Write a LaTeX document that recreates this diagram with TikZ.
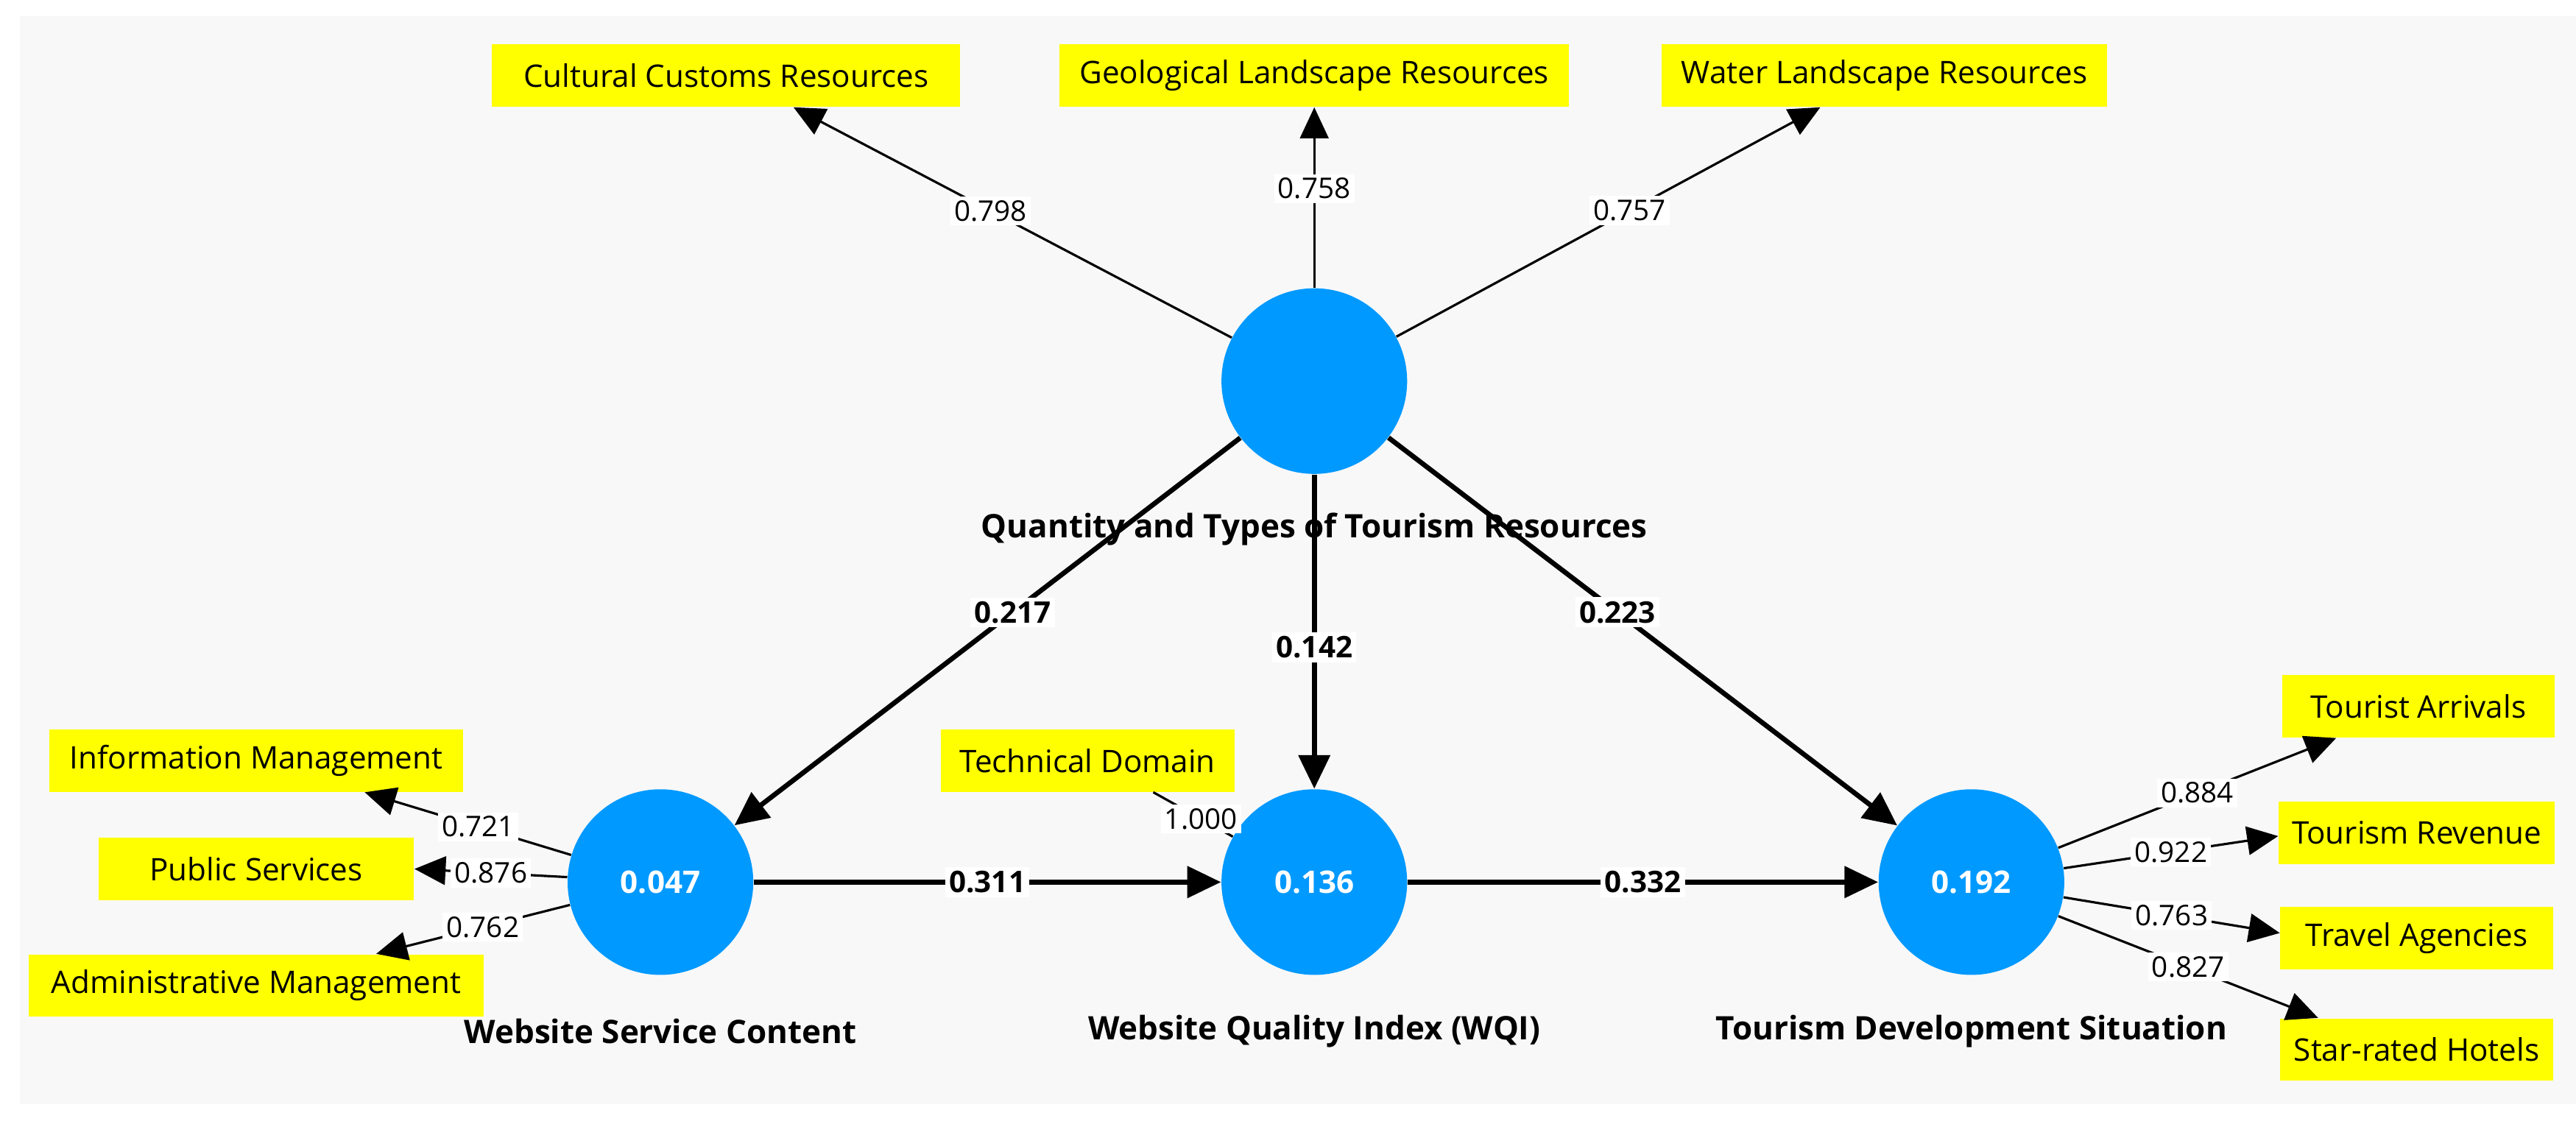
\documentclass[tikz,border=0pt]{standalone}
\usepackage{fontspec}
\setmainfont{Open Sans}
\usetikzlibrary{arrows.meta,calc}
\definecolor{lv}{HTML}{0099FF}
\definecolor{bg}{HTML}{F8F8F8}
\definecolor{yel}{HTML}{FFFF00}
\begin{document}
\begin{tikzpicture}[x=0.022315cm,y=-0.022315cm,
  lat/.style={circle,fill=lv,minimum size=113*0.022315cm,inner sep=0pt,text=white,font=\fontsize{12}{14}\selectfont\bfseries},
  ind/.style={fill=yel,inner sep=0pt,minimum height=38*0.022315cm,font=\fontsize{12}{14}\selectfont},
  lname/.style={font=\fontsize{12.5}{15}\selectfont\bfseries},
  load/.style={fill=white,inner sep=1.5pt,font=\fontsize{11}{13}\selectfont},
  path/.style={fill=white,inner sep=1.5pt,font=\fontsize{11.5}{13}\selectfont\bfseries},
  thin/.style={line width=0.9pt,-{Triangle[length=12pt,width=11pt]}},
  thick/.style={line width=1.9pt,-{Triangle[length=13pt,width=12pt]}}]
\useasboundingbox (0,0) rectangle (1568,684);
\fill[white] (0,0) rectangle (1568,684);
\fill[bg] (12,10) rectangle (1568,672);
% latent
\node[lat] (QT) at (800,232) {};
\node[lat] (WSC) at (402,537) {0.047};
\node[lat] (WQI) at (800,537) {0.136};
\node[lat] (TDS) at (1200,537) {0.192};
\node[lname] (nQT) at (800,322) {Quantity and Types of Tourism Resources};
\node[lname] (nWSC) at (402,628) {Website Service Content};
\node[lname] (nWQI) at (800,628) {Website Quality Index (WQI)};
\node[lname] (nTDS) at (1200,628) {Tourism Development Situation};
% indicators
\node[ind,minimum width=285*0.022315cm] (CC) at (442,46) {Cultural Customs Resources};
\node[ind,minimum width=310*0.022315cm] (GL) at (800,46) {Geological Landscape Resources};
\node[ind,minimum width=271*0.022315cm] (WL) at (1147,46) {Water Landscape Resources};
\node[ind,minimum width=252*0.022315cm] (IM) at (156,463) {Information Management};
\node[ind,minimum width=192*0.022315cm] (PS) at (156,529) {Public Services};
\node[ind,minimum width=277*0.022315cm] (AM) at (156,600) {Administrative Management};
\node[ind,minimum width=179*0.022315cm] (TD) at (662,463) {Technical Domain};
\node[ind,minimum width=166*0.022315cm] (TA) at (1472,430) {Tourist Arrivals};
\node[ind,minimum width=168*0.022315cm] (TR) at (1471,507) {Tourism Revenue};
\node[ind,minimum width=166*0.022315cm] (TG) at (1471,571) {Travel Agencies};
\node[ind,minimum width=166*0.022315cm] (SH) at (1471,639) {Star-rated Hotels};
% end coordinates
\coordinate (eCC) at ($(CC.south)+(41,0)$);
\coordinate (eGL) at (GL.south);
\coordinate (eWL) at ($(WL.south)+(-39,0)$);
\coordinate (eIM) at ($(IM.south)+(66,0)$);
\coordinate (ePS) at (PS.east);
\coordinate (eAM) at ($(AM.north)+(73,0)$);
\coordinate (eTA) at ($(TA.south)+(-50,0)$);
\coordinate (eTR) at ($(TR.west)+(0,2)$);
\coordinate (eTG) at ($(TG.west)+(0,-3)$);
\coordinate (eSH) at ($(SH.north)+(-60,0)$);
% structural
\draw[thick] (QT) -- node[path,pos=0.45] {0.217} (WSC);
\draw[thick] (QT) -- node[path,pos=0.55] {0.142} (WQI);
\draw[thick] (QT) -- node[path,pos=0.45] {0.223} (TDS);
\draw[thick] (WSC) -- node[path] {0.311} (WQI);
\draw[thick] (WQI) -- node[path] {0.332} (TDS);
% loadings
\draw[thin] (QT) -- node[load,pos=0.55] {0.798} (eCC);
\draw[thin] (QT) -- node[load,pos=0.55] {0.758} (eGL);
\draw[thin] (QT) -- node[load,pos=0.55] {0.757} (eWL);
\draw[thin] (WSC) -- node[load,pos=0.45] {0.721} (eIM);
\draw[thin] (WSC) -- node[load,pos=0.5] {0.876} (ePS);
\draw[thin] (WSC) -- node[load,pos=0.45] {0.762} (eAM);
\draw[line width=0.9pt] (WQI) -- node[load,pos=0.4] {1.000} ($(TD.south)+(40,0)$);
\draw[thin] (TDS) -- node[load,pos=0.5] {0.884} (eTA);
\draw[thin] (TDS) -- node[load,pos=0.5] {0.922} (eTR);
\draw[thin] (TDS) -- node[load,pos=0.5] {0.763} (eTG);
\draw[thin] (TDS) -- node[load,pos=0.5] {0.827} (eSH);
\end{tikzpicture}
\end{document}
